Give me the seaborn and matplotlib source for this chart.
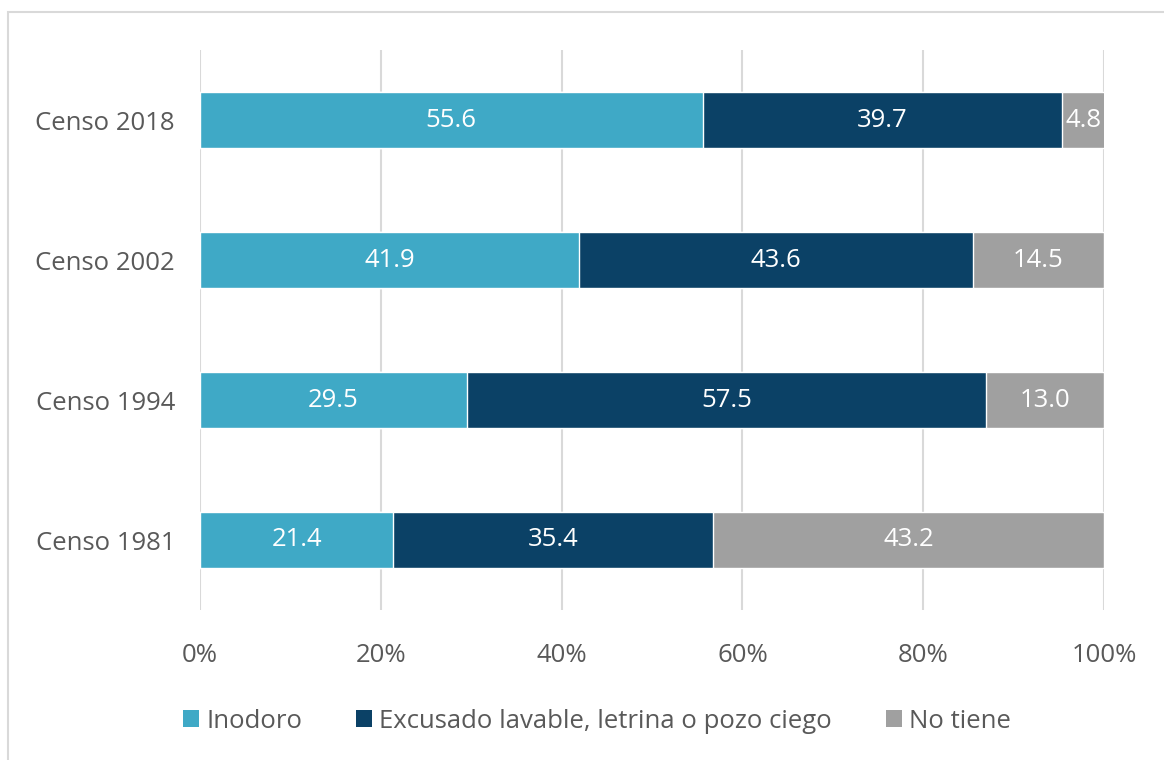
import matplotlib
matplotlib.use("Agg")
import matplotlib.pyplot as plt
import seaborn as sns
import pandas as pd
import numpy as np
from matplotlib.patches import Rectangle, Patch

categories = ["Censo 2018", "Censo 2002", "Censo 1994", "Censo 1981"]
series_names = ["Inodoro", "Excusado lavable, letrina o pozo ciego", "No tiene"]
inodoro = [55.6, 41.9, 29.5, 21.4]
excusado = [39.7, 43.6, 57.5, 35.4]
no_tiene = [4.8, 14.5, 13.0, 43.2]
xticks = [0, 20, 40, 60, 80, 100]
xtick_labels = ["0%", "20%", "40%", "60%", "80%", "100%"]

colors = ["#3FA9C6", "#0B4166", "#A0A0A0"]
text_color = "#595959"

sns.set_theme(style="white")
plt.rcParams['font.family'] = ['Open Sans', 'DejaVu Sans']

fig = plt.figure(figsize=(11.64, 7.6), dpi=100)
ax = fig.add_axes([200/1164, 1-610/760, 904/1164, 560/760])

vals = np.array([inodoro, excusado, no_tiene])
cum = np.cumsum(vals, axis=0)

# draw cumulative bars from the largest to smallest so they stack
for i in range(2, -1, -1):
    df = pd.DataFrame({"cat": categories, "val": cum[i]})
    sns.barplot(data=df, x="val", y="cat", orient="h", color=colors[i],
                saturation=1, width=0.40, ax=ax, zorder=3)

# labels
starts = cum - vals
for i in range(3):
    for j, cat in enumerate(categories):
        ax.text(starts[i][j] + vals[i][j] / 2, j, f"{vals[i][j]:.1f}",
                ha="center", va="center", color="white", fontsize=18.5, zorder=5)

ax.set_xlim(0, 100)
ax.set_ylim(3.5, -0.5)
ax.set_xticks(xticks)
ax.set_xticklabels(xtick_labels)
ax.xaxis.grid(True, color="#D9D9D9", linewidth=1.5, zorder=0)
ax.set_axisbelow(True)
for s in ax.spines.values():
    s.set_visible(False)
ax.set_xlabel("")
ax.set_ylabel("")
ax.tick_params(axis="both", length=0, colors=text_color, labelsize=18.5)
ax.tick_params(axis="x", pad=24)
ax.tick_params(axis="y", pad=18)

handles = [Patch(facecolor=c, edgecolor="none") for c in colors]
leg = fig.legend(handles, series_names, loc="center", bbox_to_anchor=(0.513, 1-721/760),
                 ncol=3, frameon=False, fontsize=18.5, handlelength=0.6, handleheight=0.6,
                 handletextpad=0.3, columnspacing=2.1)
for t in leg.get_texts():
    t.set_color(text_color)

fig.patches.append(Rectangle((8/1164, -0.1), 1.2, 1-12/760+0.1, transform=fig.transFigure,
                             fill=False, edgecolor="#D9D9D9", linewidth=1.5, zorder=0))

fig.savefig("out.png", dpi=100)
